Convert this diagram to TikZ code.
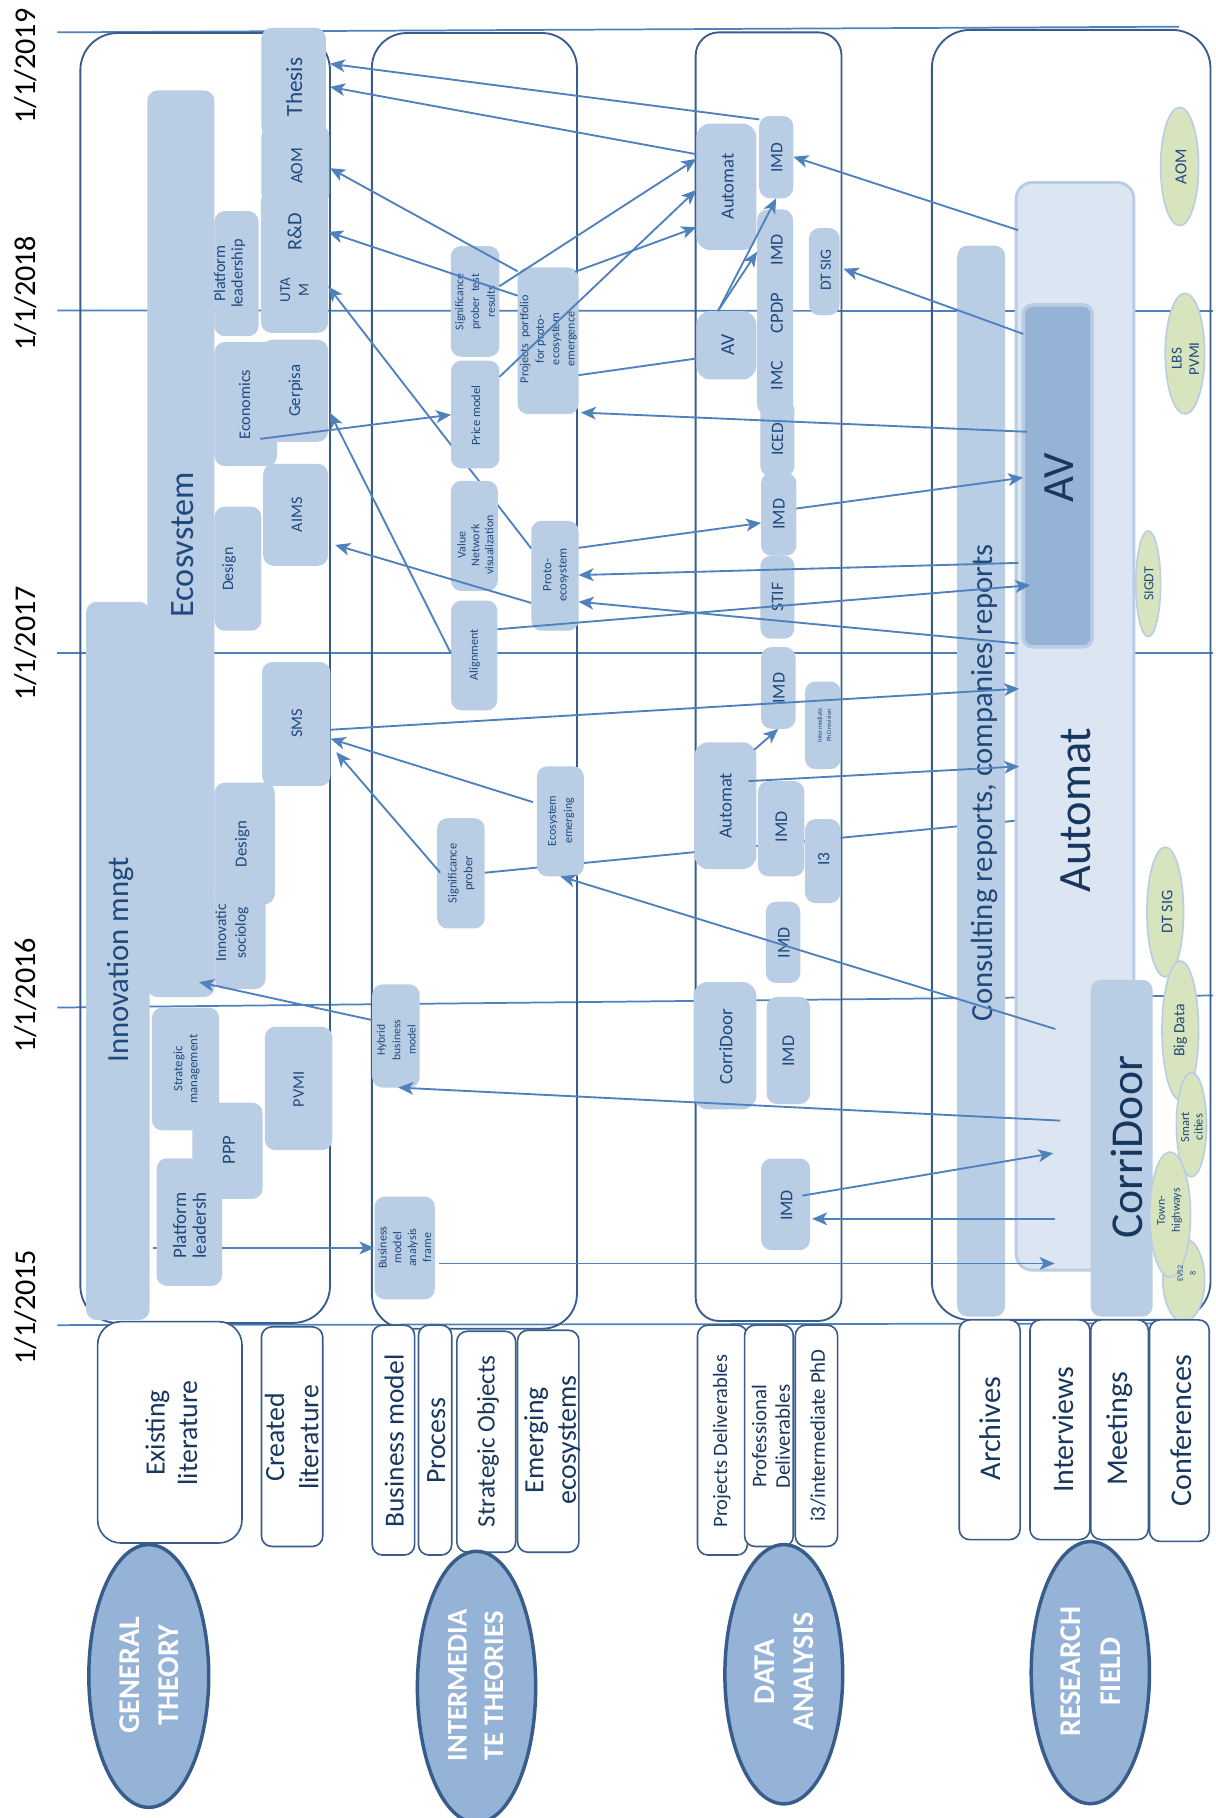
\documentclass[tikz,border=0pt]{standalone}
\usepackage{fontspec}
\setmainfont{Carlito}
\usetikzlibrary{arrows.meta,calc,shapes.geometric}
\pgfdeclarelayer{bgl}
\pgfdeclarelayer{midl}
\pgfdeclarelayer{topl}
\pgfsetlayers{bgl,midl,main,topl}
\definecolor{boxc}{HTML}{B9CDE5}
\definecolor{linec}{HTML}{4F81BD}
\definecolor{contc}{HTML}{385D8A}
\definecolor{darkc}{HTML}{95B3D7}
\definecolor{lightc}{HTML}{DCE6F2}
\definecolor{greenc}{HTML}{D7E4BD}
\definecolor{txtc}{HTML}{1F497D}
\definecolor{navyc}{HTML}{17375E}
\newcommand{\fs}[2]{\fontsize{#1}{#2}\selectfont}
\newcommand{\bxx}[6][]{%
 \pgfmathsetmacro\bxcx{(#3+#5)/2}%
 \pgfmathsetmacro\bxcy{(#4+#6)/2}%
 \pgfmathsetmacro\bxw{#5-#3}%
 \pgfmathsetmacro\bxh{#6-#4}%
 \node[box,minimum width=\bxw pt,minimum height=\bxh pt,#1] (#2) at (\bxcx,\bxcy) {};}
\newcommand{\elx}[6][]{%
 \pgfmathsetmacro\elw{2*#5}%
 \pgfmathsetmacro\elh{2*#6}%
 \node[#1,minimum width=\elw pt,minimum height=\elh pt] (#2) at (#3,#4) {};}
\begin{document}
\begin{tikzpicture}[x=1pt,y=-1pt,
  box/.style={fill=boxc,draw=none,rounded corners=9pt,inner sep=0pt,outer sep=0pt},
  cont/.style={fill=none,draw=contc,line width=1.6pt},
  wbox/.style={fill=white,draw=contc,line width=1.4pt,rounded corners=9pt},
  tl/.style={draw=linec,line width=1.5pt},
  arr/.style={draw=linec,line width=1.6pt,-{Stealth[length=13pt,width=11pt,inset=3.5pt]}},
  ln/.style={draw=linec,line width=1.6pt},
  rt/.style={rotate=90,align=center,inner sep=0pt,text=txtc},
  bt/.style={rotate=90,align=center,inner sep=0pt,text=navyc},
  wt/.style={rotate=90,align=center,inner sep=0pt,text=white,font=\bfseries},
  geo/.style={ellipse,fill=greenc,draw=boxc,line width=1.4pt,inner sep=0pt},
  bigel/.style={ellipse,fill=darkc,draw=contc,line width=3pt,inner sep=0pt}]
\useasboundingbox (0,0) rectangle (1048,1568);

% ---------------- background: timelines and containers
\begin{pgfonlayer}{bgl}
\fill[white] (0,0) rectangle (1048,1568);
\draw[tl] (49.5,27.9) -- (1016.8,23);
\draw[tl] (49.5,267.8) -- (1046,268.3);
\draw[tl] (49.5,563.2) -- (1046,563.2);
\draw[tl] (49.5,869) -- (1046,858.6);
\draw[tl] (49.5,1142.9) -- (1040,1141.4);
\bxx[cont,rounded corners=32pt]{cgen}{69.3}{28.5}{284.6}{1141}
\bxx[cont,rounded corners=30pt]{cint}{320.7}{28.5}{497.6}{1146}
\bxx[cont,rounded corners=20pt]{cdat}{600}{27.9}{725.8}{1139.3}
\bxx[cont,rounded corners=33pt]{cres}{803.7}{25.8}{1044}{1138.4}
\end{pgfonlayer}

% ---------------- dates
\node[rotate=90,inner sep=0pt,font=\fs{26}{30}] (d19) at (22,57) {1/1/2019};
\node[rotate=90,inner sep=0pt,font=\fs{26}{30}] (d18) at (22,253) {1/1/2018};
\node[rotate=90,inner sep=0pt,font=\fs{26}{30}] (d17) at (22,555) {1/1/2017};
\node[rotate=90,inner sep=0pt,font=\fs{26}{30}] (d16) at (22,858.6) {1/1/2016};
\node[rotate=90,inner sep=0pt,font=\fs{26}{30}] (d15) at (22,1127.5) {1/1/2015};

% ---------------- general theory column
\bxx{innov}{74.3}{519}{129}{1138.5}
\bxx{eco}{127}{78}{185}{860}
\bxx{thesis}{225.5}{24}{281}{118}
\bxx{aom}{225.5}{108}{284}{176}
\bxx{rnd}{225}{165}{283}{230}
\bxx{utam}{225}{215}{283}{287}
\bxx{plead1}{185}{182}{223}{290}
\bxx{econ}{185}{295}{239}{402}
\bxx{gerp}{226}{293}{283}{381}
\bxx{aims}{227}{400}{283}{488}
\bxx{design1}{185}{437}{225.5}{544}
\bxx{sms}{226}{571}{285}{678}
\bxx{design2}{185}{675}{237}{780}
\bxx{insoc}{185}{764}{229}{853}
\bxx{strat}{131}{869}{189}{975}
\bxx{ppp}{166}{951}{226.5}{1034}
\bxx{plead2}{135}{999}{191.5}{1109}
\bxx{pvmi}{228.5}{885.6}{286.6}{992}

\node[rt,font=\fs{29.5}{34}] (eco-t) at (157.5,470) {Ecosvstem};
\node[rt,font=\fs{26.5}{30}] (innov-t) at (104,828) {Innovation mngt};
\node[rt,font=\fs{20}{24}] (thesis-t) at (253.6,75) {Thesis};
\node[rt,font=\fs{15}{18}] (aom-t) at (256,143) {AOM};
\node[rt,font=\fs{17.5}{20}] (rnd-t) at (254,200) {R\&D};
\node[rt,font=\fs{13}{16}] (utam-t) at (254,250) {UTA\\M};
\node[rt,font=\fs{14}{15}] (plead1-t) at (198,236) {Platform\\leadership};
\node[rt,font=\fs{14}{17}] (econ-t) at (211,349) {Economics};
\node[rt,font=\fs{14.5}{17}] (gerp-t) at (255,337) {Gerpisa};
\node[rt,font=\fs{14}{17}] (aims-t) at (256,444) {AIMS};
\node[rt,font=\fs{13.7}{17}] (design1-t) at (197.5,491) {Design};
\node[rt,font=\fs{14}{17}] (sms-t) at (256,624) {SMS};
\node[rt,font=\fs{14.5}{17}] (design2-t) at (209,728) {Design};
\node[rt,font=\fs{13.3}{17}] (insoc-t) at (200,804.7) {Innovatic\\sociolog};
\node[rt,font=\fs{11}{13}] (strat-t) at (161,922) {Strategic\\management};
\node[rt,font=\fs{16}{19}] (ppp-t) at (197.5,992) {PPP};
\node[rt,font=\fs{16.4}{17}] (plead2-t) at (163.5,1057) {Platform\\leadersh};
\node[rt,font=\fs{14}{17}] (pvmi-t) at (257.6,939.5) {PVMI};

% ---------------- intermediate theories column
\bxx{sigtest}{388.8}{212.2}{430.8}{307.7}
\bxx{portf}{446.4}{230.7}{499}{357.2}
\bxx{price}{389}{311}{430.8}{404}
\bxx{valnet}{388.9}{414.7}{429.4}{509.7}
\bxx{proto}{458.2}{449.2}{499}{544}
\bxx{align}{389}{518}{429}{612.6}
\bxx{sigprob}{377}{705.7}{418}{800.8}
\bxx{ecoem}{463}{661}{503.6}{755.8}
\bxx{hybrid}{321}{849}{362}{938}
\bxx{bmaf}{323}{1032}{375}{1120.7}

\node[rt,font=\fs{10.2}{13.6}] (sigtest-t) at (409.8,260.3) {Significance\\prober\ \ test\\results};
\node[rt,font=\fs{10.5}{13.3}] (portf-t) at (473,292.5) {Projects\ \ portfolio\\for proto-\\ecosystem\\emergence};
\node[rt,font=\fs{10.8}{13}] (price-t) at (410.4,358.5) {Price model};
\node[rt,font=\fs{10.3}{12}] (valnet-t) at (410,470.2) {Value\\Network\\visualization};
\node[rt,font=\fs{10.9}{13}] (proto-t) at (479.5,496) {Proto-\\ecosystem};
\node[rt,font=\fs{10.5}{13}] (align-t) at (409.5,564.7) {Alignment};
\node[rt,font=\fs{10.8}{13.5}] (sigprob-t) at (397.7,753.4) {Significance\\prober};
\node[rt,font=\fs{10.3}{14}] (ecoem-t) at (484,708) {Ecosystem\\emerging};
\node[rt,font=\fs{10}{13.3}] (hybrid-t) at (341.8,897) {Hybrid\\business\\model};
\node[rt,font=\fs{10.5}{12.8}] (bmaf-t) at (349,1076) {Business\\model\\analysis\\frame};

% ---------------- data analysis column
\bxx[rounded corners=12pt]{automat1}{600.6}{106.6}{652.4}{215.7}
\bxx{imd1}{654.8}{100}{684.2}{171}
\bxx{cpdp}{653}{180.6}{684}{357.7}
\bxx[rounded corners=12pt]{av1}{600.6}{268.3}{652.4}{327.3}
\bxx{dtsig}{697.7}{196.7}{724.1}{271.9}
\bxx{iced}{655.8}{345}{685.2}{411}
\bxx{imd2}{656.4}{407.8}{686.9}{479.3}
\bxx{stif}{655.8}{479.3}{685.2}{550.9}
\bxx{imd3}{656.4}{558.1}{686.2}{628.6}
\bxx{phdrev}{694.3}{587.8}{725.1}{663.3}
\bxx[rounded corners=12pt]{automat2}{598.9}{640.2}{652.4}{749.6}
\bxx{imd4}{653.7}{673.7}{693.7}{755.8}
\bxx{ithree}{694.3}{706.5}{724.8}{778.9}
\bxx{imd5}{660.5}{777.7}{690.3}{847.8}
\bxx[rounded corners=12pt]{corri1}{598.2}{847}{652.4}{956.8}
\bxx{imd6}{661.2}{859.8}{698.7}{952.2}
\bxx{imd7}{656.4}{999.2}{698.7}{1078.2}

\node[rt,font=\fs{16}{19}] (automat1-t) at (627.7,161) {Automat};
\node[rt,font=\fs{15}{18}] (imd1-t) at (670,136) {IMD};
\node[rt,font=\fs{15.5}{18}] (cpdp-t1) at (670,215.4) {IMD};
\node[rt,font=\fs{16}{18}] (cpdp-t2) at (670,270) {CPDP};
\node[rt,font=\fs{15.5}{18}] (cpdp-t3) at (670,323.7) {IMC};
\node[rt,font=\fs{17}{20}] (av1-t) at (627.7,297.6) {AV};
\node[rt,font=\fs{13.5}{16}] (dtsig-t) at (712.3,233) {DT SIG};
\node[rt,font=\fs{15}{18}] (iced-t) at (670.7,379) {ICED};
\node[rt,font=\fs{15.5}{18}] (imd2-t) at (671.7,443.5) {IMD};
\node[rt,font=\fs{15}{18}] (stif-t) at (670.7,515) {STIF};
\node[rt,font=\fs{15.5}{18}] (imd3-t) at (671.7,593.6) {IMD};
\node[rt,font=\fs{5.5}{8}] (phdrev-t) at (711,625.6) {Intermediate\\PhD revision};
\node[rt,font=\fs{16}{19}] (automat2-t) at (626,695) {Automat};
\node[rt,font=\fs{15.5}{18}] (imd4-t) at (674,713) {IMD};
\node[rt,font=\fs{15}{18}] (ithree-t) at (710.6,741.1) {I3};
\node[rt,font=\fs{15.5}{18}] (imd5-t) at (676,813) {IMD};
\node[rt,font=\fs{16.4}{19}] (corri1-t) at (626,902.9) {CorriDoor};
\node[rt,font=\fs{15.5}{18}] (imd6-t) at (680,906.8) {IMD};
\node[rt,font=\fs{15.5}{18}] (imd7-t) at (678.4,1039.7) {IMD};

% ---------------- research field column
\bxx{consult}{825.6}{211.8}{866.9}{1135.5}
\bxx[fill=lightc,draw=boxc,line width=2.5pt,rounded corners=14pt]{autobig}{876.4}{157.4}{977.9}{1095.5}
\bxx[fill=darkc,draw=boxc,line width=3pt,rounded corners=8pt]{avbig}{882.5}{263}{942}{558}
\bxx{corribig}{940.7}{845.1}{994.2}{1135.5}

\node[rt,font=\fs{26.5}{30}] (consult-t) at (849,675) {Consulting reports, companies reports};
\node[rt,text=navyc,font=\fs{38.6}{44}] (avbig-t) at (913.3,412) {AV};
\node[rt,text=navyc,font=\fs{40}{46}] (autobig-t) at (928,698.7) {Automat};
\node[rt,text=navyc,font=\fs{39.4}{46}] (corribig-t) at (972,989.6) {CorriDoor};

\elx[geo]{eaom}{1017.4}{143.6}{16.4}{51}
\elx[geo]{elbs}{1022}{305}{17}{52}
\elx[geo]{esigdt}{990.3}{503.5}{10.7}{45.6}
\elx[geo]{edtsig}{1005}{786.6}{15.8}{56}
\elx[geo]{ebig}{1018}{888.7}{15.8}{60}
\elx[geo]{esmart}{1027.6}{970}{13}{45}
\elx[geo]{eevs}{1021}{1104}{18}{36}
\elx[geo]{etown}{1009.2}{1047.6}{17.6}{54}

\node[rt,font=\fs{14.5}{17}] (eaom-t) at (1018.5,143.6) {AOM};
\node[rt,font=\fs{13}{15}] (elbs-t) at (1022.5,309.4) {LBS\\PVMI};
\node[rt,font=\fs{12}{14}] (esigdt-t) at (991,503.5) {SIGDT};
\node[rt,font=\fs{14}{17}] (edtsig-t) at (1006.6,786.6) {DT SIG};
\node[rt,font=\fs{13.5}{16}] (ebig-t) at (1018,888.7) {Big Data};
\node[rt,font=\fs{10.7}{11.5}] (esmart-t) at (1028,972) {Smart\\cities};
\node[rt,font=\fs{7}{11}] (eevs-t) at (1023.5,1098.6) {EVS2\\8};
\node[rt,font=\fs{10.2}{13}] (etown-t) at (1008.7,1044) {Town-\\highways};

% ---------------- bottom labels
\bxx[wbox,rounded corners=20pt]{existing}{84.2}{1139.9}{208.7}{1330.8}
\bxx[wbox]{created}{225.5}{1144.4}{278.4}{1333.8}
\bxx[wbox]{bizmodel}{321}{1142.9}{357.6}{1341.2}
\bxx[wbox]{process}{360.9}{1142.9}{389.6}{1341.2}
\bxx[wbox]{stratobj}{394}{1148.2}{444.8}{1338.8}
\bxx[wbox]{emerg}{446.4}{1147.3}{499.3}{1338.8}
\bxx[wbox]{projdel}{601.6}{1142.9}{644.6}{1341.2}
\bxx[wbox]{profdel}{642.2}{1142.9}{684.2}{1333.8}
\bxx[wbox]{i3phd}{685.9}{1142.9}{722.4}{1333.8}
\bxx[wbox]{archives}{827.3}{1138.4}{879.8}{1327.9}
\bxx[wbox]{interviews}{888.3}{1138.4}{940}{1327.9}
\bxx[wbox]{meetings}{940.7}{1138.4}{990.4}{1327.9}
\bxx[wbox]{conferences}{991.4}{1138.4}{1042.9}{1329.4}

\node[bt,font=\fs{24}{28}] (existing-t) at (147.7,1236) {Existing\\literature};
\node[bt,font=\fs{24}{29.7}] (created-t) at (251.6,1239.7) {Created\\literature};
\node[bt,font=\fs{23.7}{28}] (bizmodel-t) at (340,1243) {Business model};
\node[bt,font=\fs{24}{28}] (process-t) at (376.4,1242.6) {Process};
\node[bt,font=\fs{21.7}{26}] (stratobj-t) at (421,1243) {Strategic Objects};
\node[bt,font=\fs{24}{28}] (emerg-t) at (476.3,1242) {Emerging\\ecosystems};
\node[bt,font=\fs{17.6}{21}] (projdel-t) at (622.6,1243) {Projects Deliverables};
\node[bt,font=\fs{18}{20.2}] (profdel-t) at (665,1239) {Professional\\Deliverables};
\node[bt,font=\fs{18}{21}] (i3phd-t) at (705.5,1238.2) {i3/intermediate PhD};
\node[bt,font=\fs{26}{30}] (archives-t) at (854.4,1232.3) {Archives};
\node[bt,font=\fs{25.8}{30}] (interviews-t) at (917,1233.2) {Interviews};
\node[bt,font=\fs{26}{30}] (meetings-t) at (966,1232.3) {Meetings};
\node[bt,font=\fs{26}{30}] (conferences-t) at (1018.5,1233.8) {Conferences};

\elx[bigel]{gtheory}{128.3}{1445.5}{51.7}{113.3}
\elx[bigel]{itheory}{411}{1455}{51}{117}
\elx[bigel]{danalysis}{676}{1444}{50.8}{111.8}
\elx[bigel]{rfield}{940.4}{1442.6}{51}{113}

\node[wt,font=\bfseries\fs{26}{33}] (gtheory-t) at (128.8,1444.8) {GENERAL\\THEORY};
\node[wt,font=\bfseries\fs{24.5}{31.4}] (itheory-t) at (410.3,1453.7) {INTERMEDIA\\TE THEORIES};
\node[wt,font=\bfseries\fs{26}{34}] (danalysis-t) at (676.7,1441.8) {DATA\\ANALYSIS};
\node[wt,font=\bfseries\fs{26}{33.8}] (rfield-t) at (940.7,1441.8) {RESEARCH\\FIELD};

% ---------------- connectors hidden behind boxes
\begin{pgfonlayer}{midl}
\draw[arr] (proto.west |- 0,473) -- (utam.east |- 0,247);
\draw[arr] (sigprob.east |- 0,752.7) -- ($(autobig.west |- 0,706.5)+(12.9,0)$);
\draw[arr] ($(plead2.west |- 0,1076.3)+(-3,0)$) -- (bmaf.west |- 0,1076.3);
\end{pgfonlayer}

% ---------------- connectors on top
\begin{pgfonlayer}{topl}
\draw[arr] (imd1.west |- 0,103) -- (cgen.east |- 0,55);
\draw[arr] (automat1.west |- 0,133) -- (cgen.east |- 0,75);
\draw[arr] (portf.west |- 0,234) -- (cgen.east |- 0,145);
\draw[arr] (portf.west |- 0,255) -- (rnd.east |- 0,200);
\draw[arr] ($(econ.east |- 0,378.5)+(-14.5,0)$) -- (price.west |- 0,357.7);
\draw[arr] (align.west |- 0,563.7) -- (cgen.east |- 0,356);
\draw[arr] (proto.west |- 0,520) -- ($(cgen.east |- 0,470)+(4.4,0)$);
\draw[arr] (align.east |- 0,542.7) -- ($(avbig.west |- 0,504.7)+(6.2,0)$);
\draw[arr] (proto.east |- 0,472.5) -- (imd2.west |- 0,451);
\draw[arr] ($(autobig.west |- 0,485.5)+(2,0)$) -- (proto.east |- 0,496);
\draw[arr] ($(autobig.west |- 0,555)+(2,0)$) -- (proto.east |- 0,519);
\draw[arr] (imd2.east |- 0,438.6) -- (avbig.west |- 0,411.9);
\draw[arr] ($(avbig.west |- 0,372.4)+(3.3,0)$) -- ($(portf.east |- 0,355.8)+(2,0)$);
\draw[ln] (av1.west |- 0,309.2) -- (portf.east |- 0,323.6);
\draw[arr] ($(av1.north)+(-7.3,0)$) -- (imd1.south);
\draw[arr] ($(av1.north)+(-7.3,0)$) -- (cpdp.west |- 0,217.1);
\draw[arr] (sigtest.east |- 0,246.8) -- (automat1.west |- 0,137);
\draw[arr] (price.east |- 0,325) -- (automat1.west |- 0,163.8);
\draw[arr] ($(portf.east |- 0,234.4)+(-3,0)$) -- (automat1.west |- 0,196);
\draw[arr] ($(autobig.west |- 0,198.5)+(1.7,0)$) -- (imd1.east |- 0,135.2);
\draw[arr] (avbig.west |- 0,288) -- ($(dtsig.east |- 0,231.8)+(3.4,0)$);
\draw[arr] (sms.east |- 0,629.4) -- ($(autobig.west |- 0,594)+(2.7,0)$);
\draw[arr] ($(automat2.east |- 0,646.8)+(-2,0)$) -- (imd3.south);
\draw[arr] ($(automat2.east |- 0,673.7)+(-6.8,0)$) -- ($(autobig.west |- 0,661)+(2.7,0)$);
\draw[arr] ($(autobig.west |- 0,887.5)+(33.8,0)$) -- (ecoem.south);
\draw[arr] ($(autobig.west |- 0,966.5)+(37.9,0)$) -- ($(hybrid.south)+(2,0)$);
\draw[arr] ($(imd7.east |- 0,1031.2)+(-6.7,0)$) -- ($(autobig.west |- 0,994.6)+(32.1,0)$);
\draw[arr] ($(autobig.west |- 0,1051.2)+(33.8,0)$) -- ($(imd7.east |- 0,1051.2)+(1.7,0)$);
\draw[arr] ($(bmaf.east |- 0,1089.7)+(4,0)$) -- ($(autobig.west |- 0,1089.7)+(33.2,0)$);
\draw[arr] (hybrid.west |- 0,879.8) -- ($(eco.south)+(15.7,-12.9)$);
\draw[arr] ($(ecoem.west |- 0,691.8)+(-3.4,0)$) -- (sms.east |- 0,637.1);
\draw[arr] ($(sigprob.west |- 0,752.7)+(2.7,0)$) -- ($(sms.east |- 0,648.7)+(5,0)$);
\end{pgfonlayer}
\end{tikzpicture}
\end{document}
